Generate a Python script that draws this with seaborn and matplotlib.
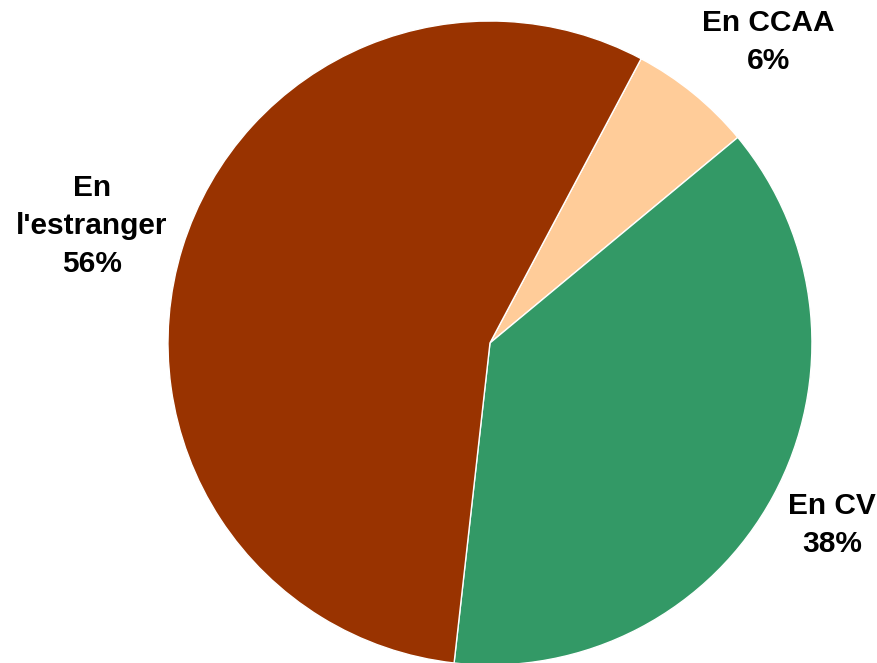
import matplotlib
matplotlib.use("Agg")
import matplotlib.pyplot as plt
import seaborn as sns

sns.set_style("white")
plt.rcParams["font.family"] = ["Liberation Sans", "DejaVu Sans"]

# Data
categories = ["En CCAA", "En CV", "En l'estranger"]
label_texts = ["En CCAA", "En CV", "En\nl'estranger"]
shares = [6.2, 37.8, 56.0]
colors = ["#FFCC99", "#339966", "#993300"]

# Label spots (data units, pie radius = 1)
label_pos = [(0.866, 0.935), (1.062, -0.565), (-1.236, 0.363)]

fig = plt.figure(figsize=(8.78, 6.63), dpi=100)
ax = fig.add_axes([0.1913, -0.003, 0.7335, 0.9713])

wedges, texts = ax.pie(
    shares,
    colors=colors,
    startangle=62,
    counterclock=False,
    labels=[f"{t}\n{round(s)}%" for t, s in zip(label_texts, shares)],
    wedgeprops=dict(edgecolor="white", linewidth=1),
)
for txt, (x, y) in zip(texts, label_pos):
    txt.set_position((x, y))
    txt.set_ha("center")
    txt.set_va("center")
    txt.set_fontsize(21.5)
    txt.set_fontweight("bold")
    txt.set_color("black")
    txt.set_linespacing(1.45)
    txt.set_multialignment("center")

ax.set_xlim(-1, 1)
ax.set_ylim(-1, 1)
ax.set_aspect("equal")
ax.axis("off")

fig.savefig("out.png", dpi=100)
